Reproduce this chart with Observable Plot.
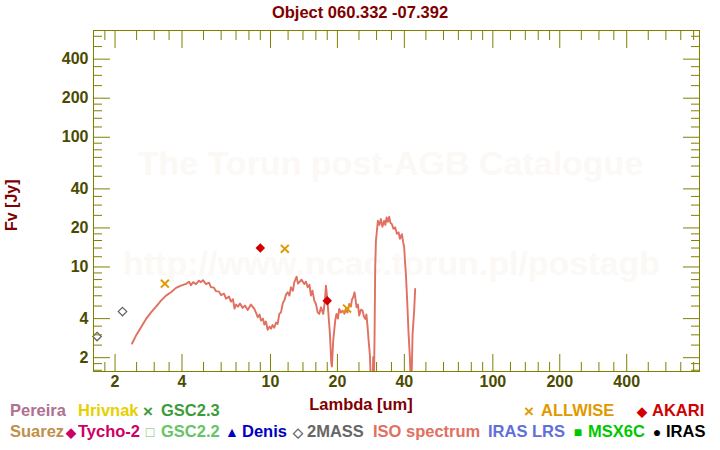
<!DOCTYPE html>
<html>
<head>
<meta charset="utf-8">
<script src="https://cdn.jsdelivr.net/npm/d3@7"></script>
<script src="https://cdn.jsdelivr.net/npm/@observablehq/plot@0.6"></script>
<style>
  html, body { margin: 0; padding: 0; background: #fff; }
  #wrap { position: relative; width: 720px; height: 450px; background: #fff;
          font-family: "Liberation Sans", Arial, sans-serif; font-weight: bold; }
  #wrap svg { position: absolute; left: 0; top: 0; }
  .t { position: absolute; white-space: nowrap; line-height: 1; }
  .sym { position: absolute; white-space: nowrap; line-height: 1; transform: translate(-50%, -50%); }
</style>
</head>
<body>
<div id="wrap"></div>
<script>
// ---------- data ----------
const titleText = "Object 060.332 -07.392";
const xLabel = "Lambda [um]";
const yLabel = "Fv [Jy]";
const watermark1 = "The Torun post-AGB Catalogue";
const watermark2 = "http://www.ncac.torun.pl/postagb";

const xMajor = [2, 4, 10, 20, 40, 100, 200, 400];
const xMinor = [1.8, 2.5, 3, 3.5, 5, 6, 7, 8, 9, 12, 14, 16, 18, 25, 30, 35, 50, 60, 70, 80, 90, 120, 140, 160, 180, 250, 300, 350, 500, 600, 700, 800];
const yMajor = [2, 4, 10, 20, 40, 100, 200, 400];
const yMinor = [1.6, 1.8, 2.5, 3, 3.5, 5, 6, 7, 8, 9, 12, 14, 16, 18, 25, 30, 35, 50, 60, 70, 80, 90, 120, 140, 160, 180, 250, 300, 350, 500, 600];

// ISO spectrum (um, Jy)
const isoLambda = [2.385, 2.486, 2.618, 2.757, 2.903, 3.058, 3.22, 3.39, 3.57, 3.76, 3.96, 4.17, 4.30, 4.39, 4.48, 4.63, 4.77, 4.87, 4.97, 5.13, 5.29, 5.40, 5.57, 5.69, 5.87, 5.99, 6.18, 6.31, 6.51, 6.64, 6.78, 6.89, 7.00, 7.14, 7.29, 7.50, 7.68, 7.90, 8.17, 8.46, 8.61, 8.76, 8.93, 9.06, 9.25, 9.38, 9.54, 9.71, 9.90, 10.05, 10.21, 10.40, 10.59, 10.77, 10.97, 11.15, 11.38, 11.54, 11.74, 11.95, 12.17, 12.36, 12.62, 12.79, 13.11, 13.29, 13.47, 13.78, 14.19, 14.44, 14.70, 14.97, 15.21, 15.45, 15.74, 16.02, 16.30, 16.57, 16.87, 17.27, 17.58, 17.76, 18.04, 18.27, 18.51, 18.76, 18.90, 19.15, 19.55, 19.80, 20.11, 20.38, 20.74, 21.11, 21.51, 21.84, 22.18, 22.61, 23.00, 23.24, 23.60, 23.89, 24.40, 24.73, 25.07, 25.51, 25.96, 26.31, 26.67, 27.01, 27.35, 27.63, 28.01, 28.30, 28.74, 28.97, 29.18, 29.39, 29.58, 29.80, 30.01, 30.41, 30.89, 31.38, 31.87, 32.47, 32.88, 33.28, 33.73, 34.19, 34.62, 35.17, 35.72, 36.39, 37.03, 37.69, 38.20, 39.00, 39.54, 39.94, 40.24, 40.64, 41.19, 41.79, 42.36, 42.93, 43.56, 44.28, 44.74];
const isoFlux = [2.57, 2.96, 3.43, 3.98, 4.47, 4.95, 5.51, 6.02, 6.38, 6.90, 7.18, 7.40, 7.71, 7.24, 7.64, 7.38, 7.85, 7.64, 7.92, 7.38, 7.57, 6.99, 6.93, 6.51, 6.46, 6.07, 6.23, 5.70, 5.91, 5.41, 5.65, 4.78, 5.13, 4.95, 5.22, 4.84, 5.04, 4.67, 5.13, 4.75, 4.45, 4.10, 4.30, 3.86, 4.00, 3.60, 3.80, 3.28, 3.47, 3.34, 3.57, 3.40, 3.73, 3.64, 4.37, 4.47, 5.31, 5.51, 6.12, 6.38, 6.02, 6.97, 6.57, 7.61, 8.42, 7.44, 7.61, 7.99, 7.40, 7.71, 6.97, 7.31, 6.02, 6.57, 5.51, 5.19, 4.47, 4.35, 4.89, 4.35, 5.51, 7.18, 5.51, 4.10, 3.05, 1.84, 1.71, 2.71, 3.86, 4.35, 4.00, 4.75, 4.45, 4.61, 4.37, 4.75, 4.45, 5.19, 4.95, 5.57, 5.91, 6.38, 4.89, 5.13, 4.22, 4.69, 4.61, 4.15, 3.98, 4.30, 3.43, 2.71, 2.08, 1.2, 1.0, 2.02, 1.2, 3.05, 9.93, 15.9, 17.94, 22.7, 21.1, 23.4, 20.4, 22.7, 21.1, 24.1, 22.3, 24.4, 21.9, 21.4, 19.7, 20.2, 18.0, 18.5, 16.5, 17.9, 15.4, 14.2, 11.2, 8.84, 5.51, 3.05, 2.02, 1.0, 3.05, 4.61, 6.77];

// photometry
const twomassLambda = [1.66, 2.16];
const twomassFlux = [2.91, 4.53];
const allwiseLambda = [3.35, 11.6, 22.1];
const allwiseFlux = [7.44, 13.8, 4.78];
const akariLambda = [9.0, 18.0];
const akariFlux = [14.0, 5.5];

// legend
const legendRow1 = [
  {label: "Pereira", sym: "", color: "#b07090", symX: 0, textX: 10},
  {label: "Hrivnak", sym: "", color: "#e6d000", symX: 0, textX: 78},
  {label: "GSC2.3", sym: "×", color: "#3c9c3c", symX: 148, textX: 161},
  {label: "ALLWISE", sym: "×", color: "#e09a00", symX: 529, textX: 541},
  {label: "AKARI", sym: "◆", color: "#d00000", symX: 642, textX: 652}
];
const legendRow2 = [
  {label: "Suarez", sym: "", color: "#c0904a", symX: 0, textX: 10},
  {label: "Tycho-2", sym: "◆", color: "#cc0066", symX: 71, textX: 78},
  {label: "GSC2.2", sym: "□", color: "#66c466", symX: 150, textX: 161},
  {label: "Denis", sym: "▲", color: "#0000c0", symX: 232, textX: 242},
  {label: "2MASS", sym: "◇", color: "#666666", symX: 298, textX: 307},
  {label: "ISO spectrum", sym: "", color: "#e07060", symX: 0, textX: 373},
  {label: "IRAS LRS", sym: "", color: "#6070d8", symX: 0, textX: 488},
  {label: "MSX6C", sym: "■", color: "#00c800", symX: 578, textX: 588},
  {label: "IRAS", sym: "●", color: "#000000", symX: 657, textX: 666}
];

// ---------- build ----------
const iso = isoLambda.map((l, i) => ({lambda: l, flux: isoFlux[i]}));
const twomass = twomassLambda.map((l, i) => ({lambda: l, flux: twomassFlux[i]}));
const allwise = allwiseLambda.map((l, i) => ({lambda: l, flux: allwiseFlux[i]}));
const akari = akariLambda.map((l, i) => ({lambda: l, flux: akariFlux[i]}));

const olive = "#808000";
const labelColor = "#4b4b00";
const none = () => "";
const MAJ = 17, MIN = 9;

function tickAxes() {
  const out = [];
  for (const [ticks, len] of [[xMajor, MAJ], [xMinor, MIN]]) {
    out.push(Plot.axisX({anchor: "bottom", ticks, tickSize: len, dy: -len, tickFormat: none, label: null, stroke: olive}));
    out.push(Plot.axisX({anchor: "top", ticks, tickSize: len, dy: len, tickFormat: none, label: null, stroke: olive}));
  }
  for (const [ticks, len] of [[yMajor, MAJ], [yMinor, MIN]]) {
    out.push(Plot.axisY({anchor: "left", ticks, tickSize: len, dx: len, tickFormat: none, label: null, stroke: olive}));
    out.push(Plot.axisY({anchor: "right", ticks, tickSize: len, dx: -len, tickFormat: none, label: null, stroke: olive}));
  }
  return out;
}

const chart = Plot.plot({
  width: 720,
  height: 450,
  marginLeft: 93,
  marginRight: 21,
  marginTop: 30,
  marginBottom: 79,
  style: {fontFamily: "'Liberation Sans', Arial, sans-serif", background: "transparent"},
  x: {type: "log", domain: [1.6, 850]},
  y: {type: "log", domain: [1.565, 665]},
  marks: [
    Plot.text([watermark1], {frameAnchor: "middle", dx: -6, dy: -37, fontSize: 34, fontWeight: "bold", fill: "#fbf8f5"}),
    Plot.text([watermark2], {frameAnchor: "middle", dx: -5, dy: 63, fontSize: 34, fontWeight: "bold", fill: "#fbf8f5"}),
    Plot.line(iso, {x: "lambda", y: "flux", stroke: "#e07060", strokeWidth: 1.9, clip: true}),
    Plot.dot(twomass, {x: "lambda", y: "flux", symbol: "diamond2", r: 3.8, stroke: "#666666", strokeWidth: 1.3, fill: "none"}),
    Plot.dot(allwise, {x: "lambda", y: "flux", symbol: "times", r: 3.7, stroke: "#e09a00", strokeWidth: 2}),
    Plot.dot(akari, {x: "lambda", y: "flux", symbol: "diamond2", r: 4.3, fill: "#d00000", stroke: "none"}),
    Plot.frame({stroke: olive}),
    ...tickAxes(),
    Plot.axisX({anchor: "bottom", ticks: xMajor, tickSize: 0, tickPadding: 4, tickFormat: d => String(d), label: null,
                fontSize: 16, fontWeight: "bold", fill: labelColor}),
    Plot.axisY({anchor: "left", ticks: yMajor, tickSize: 0, tickPadding: 5, tickFormat: d => String(d), label: null,
                fontSize: 16, fontWeight: "bold", fill: labelColor})
  ]
});

const wrap = document.getElementById("wrap");
wrap.appendChild(chart);

function addText(txt, left, centerY, color, size, extra) {
  const d = document.createElement("div");
  d.className = "t";
  d.textContent = txt;
  d.style.left = left + "px";
  d.style.top = (centerY - size / 2) + "px";
  d.style.color = color;
  d.style.fontSize = size + "px";
  if (extra) Object.assign(d.style, extra);
  wrap.appendChild(d);
  return d;
}
function addSym(s, cx, cy, color, size) {
  const d = document.createElement("div");
  d.className = "sym";
  d.textContent = s;
  d.style.left = cx + "px";
  d.style.top = cy + "px";
  d.style.color = color;
  d.style.fontSize = size + "px";
  wrap.appendChild(d);
}

// title
addText(titleText, 0, 12, "#800000", 16.5, {width: "720px", textAlign: "center"});
// x label
addText(xLabel, 0, 404, "#800000", 16.5, {width: "722px", textAlign: "center"});
// y label (rotated)
const yl = addText(yLabel, 12, 204, "#800000", 16, {});
yl.style.left = "0px";
yl.style.top = "0px";
yl.style.transformOrigin = "0 0";
yl.style.transform = "translate(4px, 231px) rotate(-90deg)";

// legend
const symSize = {"×": 17, "◆": 13, "□": 14, "▲": 14, "◇": 13, "■": 14, "●": 14};
const rowY = [410, 431];
[legendRow1, legendRow2].forEach((row, r) => {
  for (const it of row) {
    if (it.sym) addSym(it.sym, it.symX, rowY[r] + 1, it.color, symSize[it.sym]);
    addText(it.label, it.textX, rowY[r], it.color, 16.5);
  }
});
</script>
</body>
</html>
